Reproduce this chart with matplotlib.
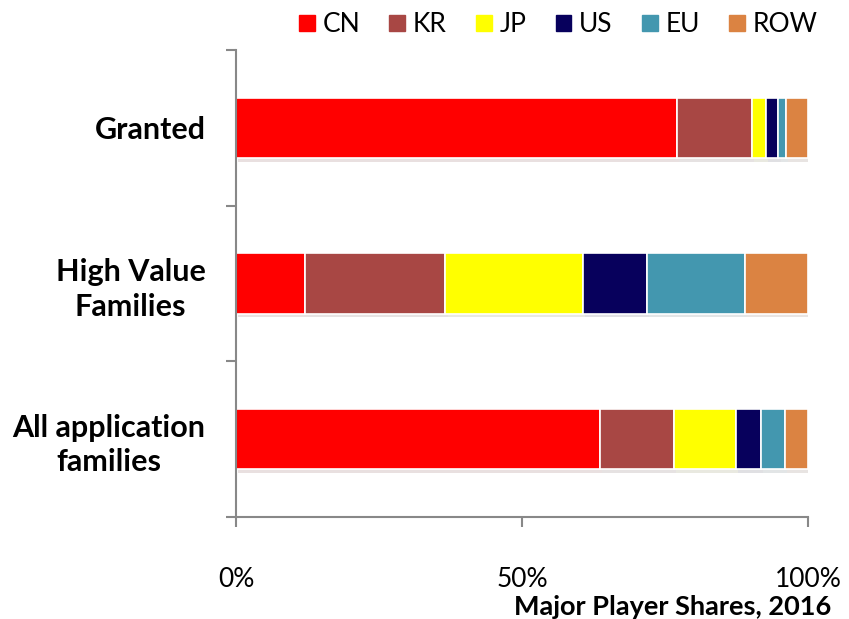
import matplotlib.pyplot as plt
import matplotlib.patches as mpatches
import matplotlib.patheffects as pe
import numpy as np

plt.rcParams["font.family"] = ["Lato", "DejaVu Sans"]

categories = ["Granted", "High Value\nFamilies", "All application\nfamilies"]
regions = ["CN", "KR", "JP", "US", "EU", "ROW"]
colors = ["#FF0000", "#A84744", "#FFFF00", "#07005C", "#4397AF", "#DB8342"]

# shares in % per category (Granted, High Value, All)
cn = [77.0, 12.0, 63.6]
kr = [13.2, 24.6, 13.0]
jp = [2.4, 24.1, 10.8]
us = [2.2, 11.1, 4.4]
eu = [1.3, 17.1, 4.1]
row = [3.9, 11.1, 4.1]
series = [cn, kr, jp, us, eu, row]

fig = plt.figure(figsize=(8.49, 6.19), dpi=100)
ax = fig.add_axes([0.278, 0.165, 0.674, 0.754])

y = np.arange(len(categories))
left = np.zeros(len(categories))
for vals, name, c in zip(series, regions, colors):
    vals = np.array(vals)
    bars = ax.barh(y, vals, left=left, height=0.39, color=c, edgecolor="white",
                   linewidth=1.2, label=name)
    for b in bars:
        b.set_path_effects([pe.SimplePatchShadow(offset=(1.5, -2.5), alpha=0.12), pe.Normal()])
    left += vals

ax.set_xlim(0, 100)
ax.set_ylim(2.5, -0.5)
ax.set_xticks([0, 50, 100])
ax.set_xticklabels(["0%", "50%", "100%"], fontsize=19)
ax.set_yticks(y)
ax.set_yticklabels(categories, fontsize=22, fontweight="bold",
                   multialignment="center", linespacing=1.3)
ax.set_yticks([-0.5, 0.5, 1.5, 2.5], minor=True)
ax.tick_params(axis="y", which="major", length=0, pad=22)
ax.tick_params(axis="y", which="minor", length=7, color="#888888", width=1.5)
ax.tick_params(axis="x", length=7, color="#888888", width=1.5, pad=29)

for s in ["top", "right"]:
    ax.spines[s].set_visible(False)
for s in ["left", "bottom"]:
    ax.spines[s].set_color("#888888")
    ax.spines[s].set_linewidth(1.5)

ax.set_xlabel("Major Player Shares, 2016", fontsize=19.5, fontweight="bold")
ax.xaxis.set_label_coords(1.04, -0.167)
ax.xaxis.label.set_horizontalalignment("right")
ax.xaxis.label.set_verticalalignment("top")

handles = [mpatches.Patch(color=c, label=n) for n, c in zip(regions, colors)]
fig.legend(handles=handles, ncol=6, frameon=False, fontsize=19,
           loc="center right", bbox_to_anchor=(0.963, 0.96),
           handlelength=0.6, handleheight=0.6, handletextpad=0.3, columnspacing=1.1,
           borderpad=0, borderaxespad=0)

fig.savefig("out.png", dpi=100)
